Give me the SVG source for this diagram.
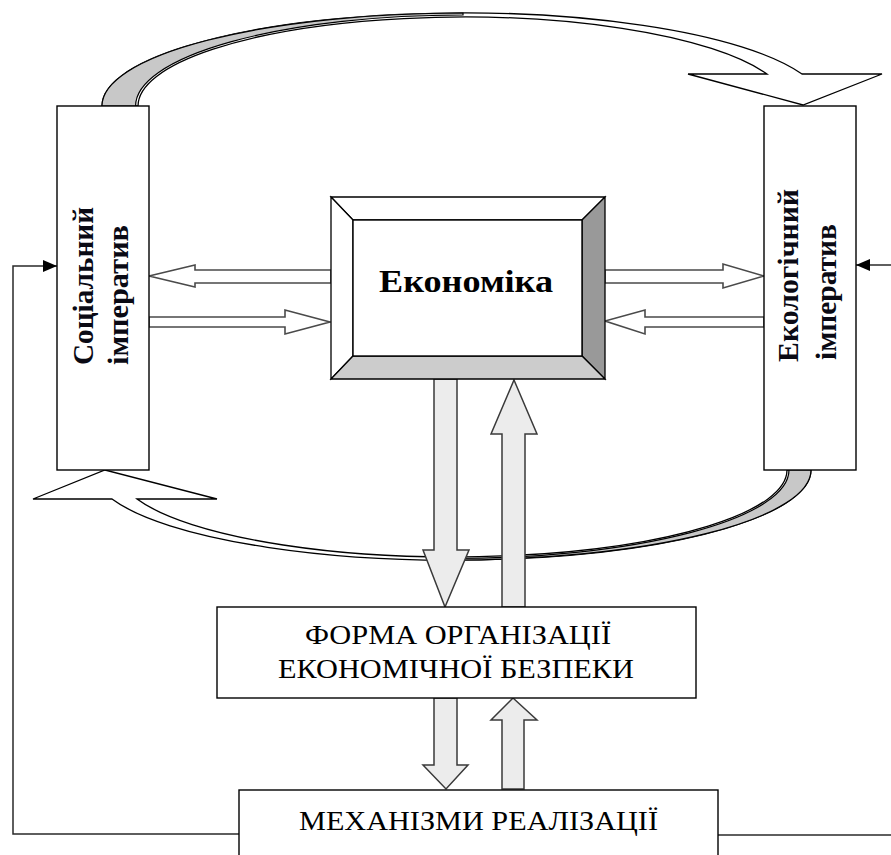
<svg xmlns="http://www.w3.org/2000/svg" width="891" height="855" viewBox="0 0 891 855">
  <style>
    .box { fill: #ffffff; stroke: #000000; stroke-width: 1.4; }
    .bevel { stroke: #000000; stroke-width: 1.3; stroke-linejoin: miter; }
    .arc { fill: #ffffff; stroke: #000000; stroke-width: 1.3; stroke-linejoin: miter; }
    .arc-back { fill: #c8c8c8; stroke: #000000; stroke-width: 1.2; }
    .hollow { fill: #ffffff; stroke: #4a4a4a; stroke-width: 1.6; stroke-linejoin: miter; }
    .fat { fill: #ececec; stroke: #3a3a3a; stroke-width: 1.5; stroke-linejoin: miter; }
    .feed { fill: none; stroke: #2a2a2a; stroke-width: 1.5; }
    .side { font-family: "Liberation Serif", "Times New Roman", serif; font-weight: bold; font-size: 30px; fill: #0a0a14; }
    .title { font-family: "Liberation Serif", "Times New Roman", serif; font-weight: bold; font-size: 32px; fill: #000000; }
    .caps { font-family: "Liberation Serif", "Times New Roman", serif; font-size: 27px; fill: #000000; }
  </style>
  <defs>
    <marker id="tip" viewBox="0 0 14 12" refX="14" refY="6" markerWidth="14" markerHeight="12" markerUnits="userSpaceOnUse" orient="auto">
      <path d="M0,0 L14,6 L0,12 Z" fill="#000000"/>
    </marker>
  </defs>

  <g id="connectors">
    <!-- upper curved arrow: social -> ecological -->
    <path class="arc" d="M102,106 A361,93 0 0 1 802,74 L882,74 L803,105 L688,74 L767,74 A325.4,89 0 0 0 138,106 Z"/>
    <path class="arc-back" d="M102,106 A361,93 0 0 1 463,13 L463,15 A327.6,91 0 0 0 135.6,106 Z"/>
    <!-- lower curved arrow: ecological -> social -->
    <path class="arc" d="M811,470 A359,90 0 0 1 112,499 L33,499 L105,470 L217,499 L137,499 A334.6,87 0 0 0 787,470 Z"/>
    <path class="arc-back" d="M811,470 A359,90 0 0 1 452,560 L452,558.5 A336.8,88.5 0 0 0 789,470 Z"/>

    <!-- hollow horizontal arrows -->
    <polygon class="hollow" points="331,270 195,270 195,265 149,276 195,287 195,283 331,283"/>
    <polygon class="hollow" points="149,317 285,317 285,310 330,322 285,334 285,327 149,327"/>
    <polygon class="hollow" points="605,270 723,270 723,264 764,276 723,288 723,283 605,283"/>
    <polygon class="hollow" points="764,317 645,317 645,310 605,321 645,334 645,327 764,327"/>

    <!-- block arrows between economy, form and mechanisms -->
    <polygon class="fat" points="434,379 457,379 457,550 469,550 445,607 423,550 434,550"/>
    <polygon class="fat" points="514,380 537,434 525,434 525,607 502,607 502,434 491,434"/>
    <polygon class="fat" points="434,698 457,698 457,765 468,765 446,789 423,765 434,765"/>
    <polygon class="fat" points="513,698 537,720 524,720 524,789 502,789 502,720 491,720"/>

    <!-- feedback lines from mechanisms -->
    <polyline class="feed" points="239,834 13,834 13,266 57,266" marker-end="url(#tip)"/>
    <line class="feed" x1="891" y1="265" x2="856" y2="265" marker-end="url(#tip)"/>
    <line class="feed" x1="718" y1="835" x2="891" y2="835"/>
  </g>

  <g id="social">
    <rect class="box" x="57" y="106" width="92" height="364"/>
    <text class="side" transform="translate(92.5,365) rotate(-90)" textLength="158" lengthAdjust="spacingAndGlyphs">Соціальний</text>
    <text class="side" transform="translate(128,365) rotate(-90)" textLength="140" lengthAdjust="spacingAndGlyphs">імператив</text>
  </g>

  <g id="ecological">
    <rect class="box" x="764" y="106" width="92" height="364"/>
    <text class="side" transform="translate(798,362) rotate(-90)" textLength="173" lengthAdjust="spacingAndGlyphs">Екологічний</text>
    <text class="side" transform="translate(836,360) rotate(-90)" textLength="136" lengthAdjust="spacingAndGlyphs">імператив</text>
  </g>

  <g id="economy">
    <polygon class="bevel" fill="#ffffff" points="331,197 605,197 582,220 353,220"/>
    <polygon class="bevel" fill="#ffffff" points="331,197 353,220 353,356 331,379"/>
    <polygon class="bevel" fill="#999999" points="605,197 605,379 582,356 582,220"/>
    <polygon class="bevel" fill="#cccccc" points="331,379 605,379 582,356 353,356"/>
    <rect class="box" x="353" y="220" width="229" height="136"/>
    <text class="title" x="466" y="292" text-anchor="middle" textLength="174" lengthAdjust="spacingAndGlyphs">Економіка</text>
  </g>

  <g id="form">
    <rect class="box" x="217" y="607" width="479" height="91"/>
    <text class="caps" x="458" y="644" text-anchor="middle" textLength="306" lengthAdjust="spacingAndGlyphs">ФОРМА ОРГАНІЗАЦІЇ</text>
    <text class="caps" x="456" y="678" text-anchor="middle" textLength="356" lengthAdjust="spacingAndGlyphs">ЕКОНОМІЧНОЇ БЕЗПЕКИ</text>
  </g>

  <g id="mechanisms">
    <rect class="box" x="239" y="790" width="479" height="80"/>
    <text class="caps" x="478.5" y="830" text-anchor="middle" textLength="359" lengthAdjust="spacingAndGlyphs">МЕХАНІЗМИ РЕАЛІЗАЦІЇ</text>
  </g>
</svg>
